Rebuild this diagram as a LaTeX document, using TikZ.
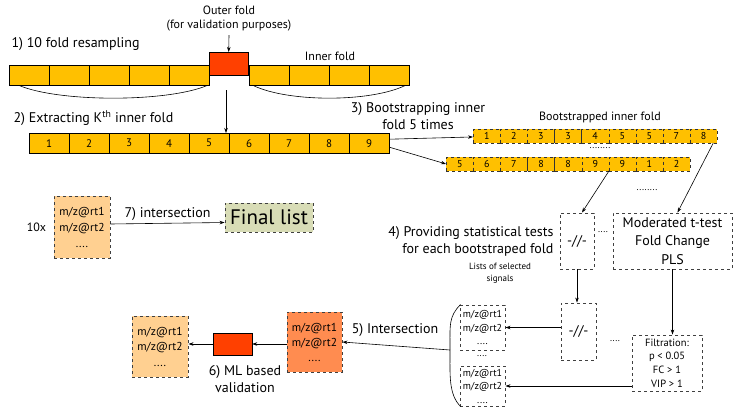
\documentclass[tikz,border=0pt]{standalone}
\usepackage{fontspec}
\setmainfont{PT Sans}
\usetikzlibrary{positioning,arrows.meta}

\definecolor{foldgold}{RGB}{255,192,0}
\definecolor{outerred}{RGB}{255,64,0}
\definecolor{listdark}{RGB}{255,140,80}
\definecolor{listlight}{RGB}{255,208,145}
\definecolor{finalgreen}{RGB}{216,220,182}

\begin{document}
\begin{tikzpicture}[x=1pt,y=-1pt]
            \tikzstyle{fold}=[rectangle,draw,fill=foldgold,minimum width=40pt,minimum height=20pt,inner sep=0pt,anchor=north west,font=\fontsize{11}{12}\selectfont]
            \tikzstyle{boot}=[fold,draw=black!80,dashed,minimum width=27.1pt,minimum height=13.5pt,font=\fontsize{10}{11}\selectfont]
            \tikzstyle{list}=[rectangle,draw=black!75,dashed,line width=0.9pt,align=center,inner sep=1pt]
            \tikzstyle{link}=[-{Stealth[length=5pt,width=3.5pt]},line width=0.6pt]
            \tikzstyle{big}=[font=\fontsize{14}{17}\selectfont,align=center]
            \tikzstyle{mid}=[font=\fontsize{12}{14}\selectfont,align=center]
            \tikzstyle{small}=[font=\fontsize{9.5}{12}\selectfont,align=center]
            \tikzstyle{dots}=[small,inner sep=0pt]

            \useasboundingbox (0,0) rectangle (740,413);

            % 1) ten folds
            \foreach \i in {1,...,5}
                \node[fold] (t\i) at ({9+40*(\i-1)},65) {};
            \node[fold,fill=outerred,minimum width=39pt,minimum height=23pt] (o) at (209,52) {};
            \foreach \i in {1,...,4}
                \node[fold] (r\i) at ({249+40*(\i-1)},65) {};

            \node[big,anchor=west] (step1) at (8,44) {1) 10 fold resampling};
            \node[mid] (outer) at (229,19) {Outer fold\\(for validation purposes)};
            \node[mid] (inner) at (330,56) {Inner fold};

            \draw[link] (outer.south) -- (o.north);
            \draw[line width=0.6pt] ([xshift=10pt]t1.south west) .. controls +(40,17) and +(-40,17) .. ([xshift=-2pt]t5.south east);
            \draw[line width=0.6pt] ([xshift=4pt]r1.south west) .. controls +(35,17) and +(-35,17) .. ([xshift=-4pt]r4.south east);

            % 2) k-th inner fold
            \foreach \i in {1,...,9}
                \node[fold] (k\i) at ({29+40*(\i-1)},133) {\i};
            \node[big,anchor=west] (step2) at (10,118) {2) Extracting K\textsuperscript{th} inner fold};
            \coordinate (split) at (226,90);
            \draw[link] (split) -- (split |- k5.north);

            % 3) bootstrapping
            \node[big] (step3) at (418,116) {3) Bootstrapping inner\\fold 5 times};
            \node[mid] (bootlbl) at (600,117) {Bootstrapped inner fold};
            \foreach \n [count=\i] in {1,2,3,3,4,5,5,7,8}
                \node[boot] (b\i) at ({473+27.1*(\i-1)},129) {\n};
            \foreach \n [count=\i] in {5,6,7,8,8,9,9,1,2}
                \node[boot] (c\i) at ({446+27.1*(\i-1)},157) {\n};
            \node[dots] (dots1) at (600,148) {........};
            \node[dots] (dots2) at (647,190) {........};

            \draw[link] ([yshift=4pt]k9.east) -- ([yshift=-1pt]b1.west);
            \draw[link] ([yshift=-4pt]k9.east) -- (c1.west);

            % 4) statistical tests
            \node[list,big,minimum width=34pt,minimum height=56pt] (d1) at (577,241) {-//-};
            \node[list,big,minimum width=119pt,minimum height=56pt,font=\fontsize{14}{18.5}\selectfont] (mod) at (672.5,241) {Moderated t-test\\Fold Change\\PLS};
            \node[dots] (dots3) at (603,232) {....};
            \node[big,anchor=east,align=right] (step4) at (557,241) {4) Providing statistical tests\\for each bootstraped fold};

            \draw[link] (c6.south east) -- ([xshift=5pt]d1.north);
            \draw[link] ([xshift=-4pt]b9.south east) -- ([xshift=5pt]mod.north);

            \node[list,big,minimum width=35pt,minimum height=57pt] (d2) at (578.5,331.5) {-//-};
            \node[list,minimum width=70pt,minimum height=56pt,font=\fontsize{10.5}{13.7}\selectfont] (filt) at (667,363) {Filtration:\\p < 0.05\\FC > 1\\VIP > 1};
            \node[dots] (dots4) at (615,341) {....};

            \draw[link] (d1.south) -- (d1.south |- d2.north);
            \draw[link] (mod.south) -- (mod.south |- filt.north);

            % lists of selected signals
            \node[small,font=\fontsize{9}{12}\selectfont] (lists) at (500,273) {Lists of selected\\signals};
            \node[list,minimum width=45pt,minimum height=45pt,font=\fontsize{10}{13.5}\selectfont] (s1) at (482.5,327.5) {m/z@rt1\\m/z@rt2\\....};
            \node[list,minimum width=45pt,minimum height=40pt,font=\fontsize{10}{13.5}\selectfont] (s2) at (482.5,386) {m/z@rt1\\m/z@rt2\\....};
            \node[dots] (dots5) at (482,356) {....};

            \draw[link] (d2.west |- s1) -- (s1.east);
            \draw[link] (filt.west |- s2) -- (s2.east);

            % 5) intersection, 6) validation
            \coordinate (brk) at (450,350);
            \draw[line width=0.6pt] ([xshift=1pt]s1.north west) .. controls +(-12,12) and +(0,-25) .. (brk) .. controls +(0,25) and +(-12,-12) .. ([xshift=1pt]s2.south west);

            \node[list,fill=listdark,minimum width=55pt,minimum height=60pt,font=\fontsize{11.5}{15}\selectfont] (i5) at (314.5,342) {m/z@rt1\\m/z@rt2\\....};
            \node[big] (step5) at (395,330) {5) Intersection};
            \draw[link] (brk) -- (i5.east);

            \node[rectangle,draw,fill=outerred,minimum width=39pt,minimum height=22pt] (ml) at (232.5,344) {};
            \node[list,fill=listlight,minimum width=56pt,minimum height=61pt,font=\fontsize{11.5}{15.5}\selectfont] (res) at (160,346.5) {m/z@rt1\\m/z@rt2\\....};
            \node[big] (step6) at (245,379) {6) ML based\\validation};

            \draw[link] (i5.west |- ml) -- (ml.east);
            \draw[link] (ml.west) -- (res.east |- ml);

            % 7) final intersection
            \node[list,fill=listlight,minimum width=56pt,minimum height=62pt,font=\fontsize{11.5}{16}\selectfont] (ten) at (82,227) {m/z@rt1\\m/z@rt2\\....};
            \node[mid,left=4pt of ten] (tenx) {10x};
            \node[list,fill=finalgreen,minimum width=88pt,minimum height=29pt,font=\fontsize{21}{24}\selectfont] (final) at (269,217.5) {Final list};
            \draw[link] ([yshift=3pt]ten.east) -- ([yshift=-5pt]final.west) node[midway,above=-1pt,big] (step7) {7) intersection};
\end{tikzpicture}
\end{document}
